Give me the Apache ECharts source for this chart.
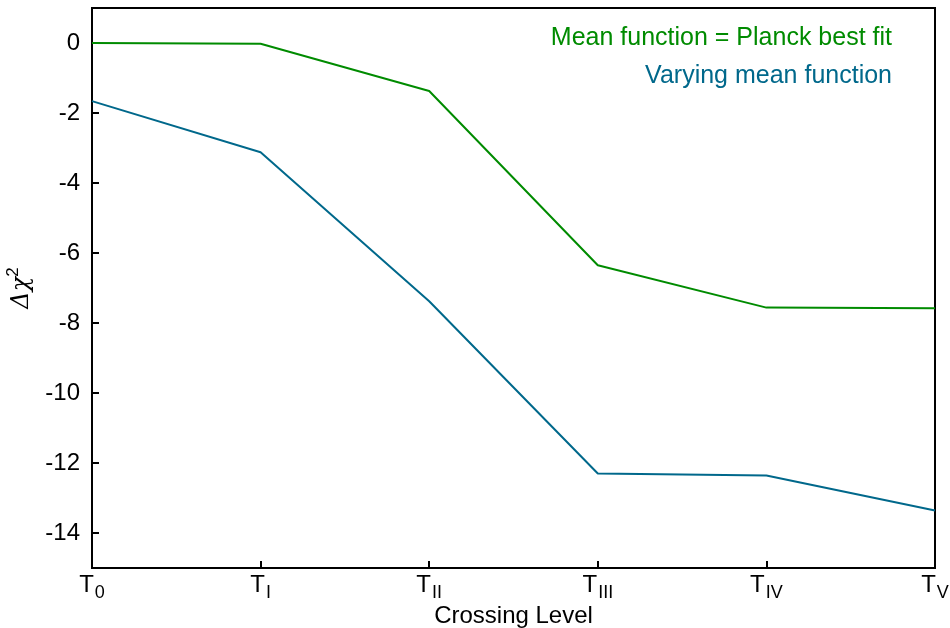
<!DOCTYPE html>
<html>
<head>
<meta charset="utf-8">
<script src="https://cdn.jsdelivr.net/npm/echarts@6/dist/echarts.min.js"></script>
<style>html,body{margin:0;padding:0;background:#fff}#c{width:950px;height:628px}</style>
</head>
<body>
<div id="c"></div>
<script>
const categories = ['0', 'I', 'II', 'III', 'IV', 'V'];
const seriesNames = ['Mean function = Planck best fit', 'Varying mean function'];
const planckValues = [0, -0.02, -1.37, -6.35, -7.56, -7.58];
const varyingValues = [-1.66, -3.12, -7.38, -12.3, -12.36, -13.36];
const yRange = { min: -15, max: 1, interval: 1 };
const yTickValues = [-14, -12, -10, -8, -6, -4, -2, 0];

const green = '#008B00';
const blue = '#00688B';
const font = 'Liberation Sans, Arial, sans-serif';

const chart = echarts.init(document.getElementById('c'));
chart.setOption({
  animation: false,
  backgroundColor: '#fff',
  grid: { left: 92, right: 15, top: 8, bottom: 60, containLabel: false, outerBoundsMode: 'none', show: true, borderColor: '#000', borderWidth: 2, backgroundColor: 'transparent' },
  legend: {
    orient: 'vertical', right: 48, top: 21, itemGap: 13, icon: 'none', itemWidth: 0, itemHeight: 0, align: 'right',
    selectedMode: false,
    data: [
      { name: seriesNames[0], textStyle: { color: green } },
      { name: seriesNames[1], textStyle: { color: blue } }
    ],
    textStyle: { fontSize: 25, fontFamily: font }
  },
  xAxis: {
    type: 'category', data: categories, boundaryGap: false,
    name: 'Crossing Level', nameLocation: 'middle', nameGap: 36, nameMoveOverlap: false,
    nameTextStyle: { fontSize: 24, color: '#000', fontFamily: font },
    axisLine: { onZero: false, lineStyle: { color: '#000', width: 2 } },
    axisTick: { show: true, inside: true, length: 7, lineStyle: { color: '#000', width: 2 }, alignWithLabel: true },
    axisLabel: {
      margin: 5, color: '#000',
      formatter: v => '{t|T}{s|' + v + '}',
      rich: {
        t: { fontSize: 24, fontFamily: font, color: '#000', verticalAlign: 'top' },
        s: { fontSize: 18, fontFamily: font, color: '#000', padding: [11, 0, 0, 1], verticalAlign: 'top' }
      }
    },
    splitLine: { show: false }
  },
  yAxis: {
    type: 'value', min: yRange.min, max: yRange.max, interval: yRange.interval,
    name: '{a|Δχ}{b|2}', nameLocation: 'middle', nameGap: 58, nameRotate: 90, nameMoveOverlap: false,
    nameTextStyle: {
      rich: {
        a: { fontSize: 24, fontFamily: 'DejaVu Serif, serif', fontStyle: 'italic', color: '#000', padding: [8, 0, 0, 0] },
        b: { fontSize: 17, fontFamily: font, color: '#000', padding: [0, 0, 10, 0] }
      }
    },
    axisLine: { show: true, onZero: false, lineStyle: { color: '#000', width: 2 } },
    axisTick: { show: true, inside: true, length: 7, lineStyle: { color: '#000', width: 2 }, customValues: yTickValues },
    axisLabel: {
      margin: 12, fontSize: 24, fontFamily: font, color: '#000',
      customValues: yTickValues
    },
    splitLine: { show: false }
  },
  series: [
    { name: seriesNames[0], type: 'line', data: planckValues, showSymbol: false, symbol: 'none', lineStyle: { color: green, width: 2 }, itemStyle: { color: green } },
    { name: seriesNames[1], type: 'line', data: varyingValues, showSymbol: false, symbol: 'none', lineStyle: { color: blue, width: 2 }, itemStyle: { color: blue } }
  ]
});
</script>
</body>
</html>
